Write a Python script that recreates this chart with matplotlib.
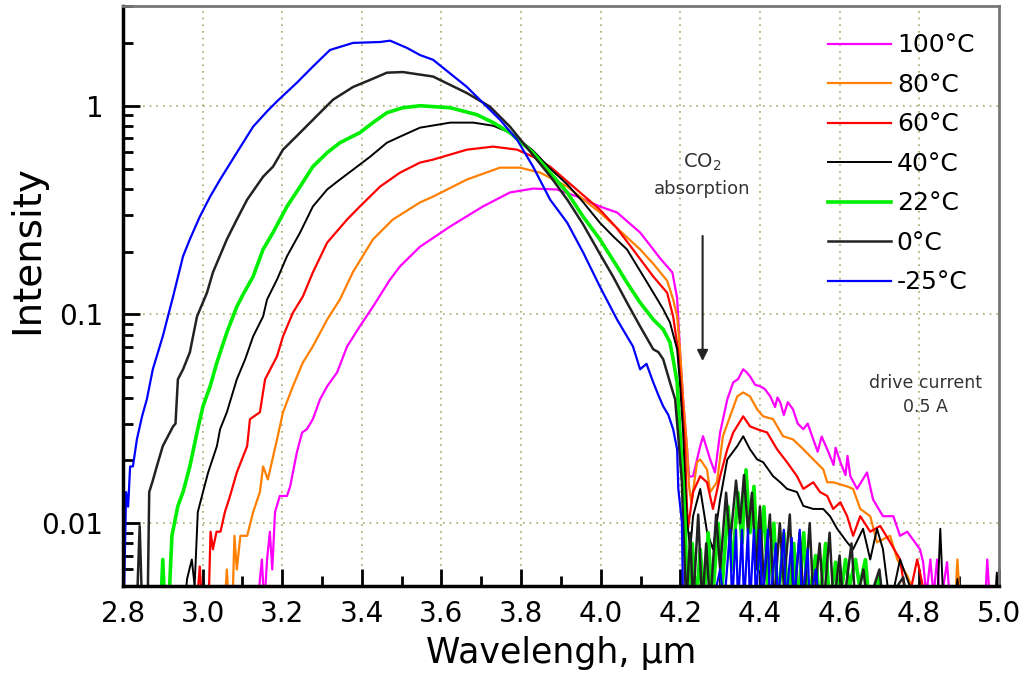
import matplotlib
matplotlib.use("Agg")
import matplotlib.pyplot as plt
from matplotlib.ticker import LogLocator, MultipleLocator, NullFormatter

# emission spectra (wavelength in um, intensity a.u.)
# 0.004 marks points sitting on the noise floor, below the axis limit

wl_100 = [3.140, 3.144, 3.149, 3.155, 3.162, 3.169, 3.175, 3.182, 3.194, 3.212, 3.220, 3.237,
          3.250, 3.262, 3.277, 3.295, 3.313, 3.338, 3.363, 3.395, 3.428, 3.471, 3.496, 3.546,
          3.622, 3.704, 3.772, 3.830, 3.890, 3.941, 3.998, 4.041, 4.099, 4.132, 4.149, 4.180,
          4.192, 4.199, 4.207, 4.217, 4.222, 4.232, 4.250, 4.257, 4.275, 4.287, 4.300, 4.318,
          4.333, 4.345, 4.358, 4.366, 4.375, 4.388, 4.400, 4.412, 4.426, 4.438, 4.444, 4.451,
          4.460, 4.470, 4.483, 4.495, 4.509, 4.520, 4.534, 4.545, 4.555, 4.569, 4.585, 4.590,
          4.602, 4.615, 4.620, 4.627, 4.644, 4.669, 4.684, 4.709, 4.735, 4.752, 4.770, 4.802,
          4.810, 4.818, 4.828, 4.836, 4.845, 4.853, 4.870, 4.878, 4.965, 4.971, 4.978, 5.000]
int_100 = [0.004, 0.0054, 0.0067, 0.004, 0.0067, 0.0091, 0.006, 0.0113, 0.0135, 0.0135, 0.015, 0.0219,
           0.0272, 0.0282, 0.0315, 0.0392, 0.0453, 0.0528, 0.0703, 0.0877, 0.109, 0.147, 0.170, 0.211,
           0.264, 0.329, 0.384, 0.401, 0.397, 0.367, 0.329, 0.308, 0.247, 0.205, 0.186, 0.159,
           0.120, 0.0681, 0.0392, 0.0226, 0.0167, 0.0168, 0.0234, 0.0261, 0.0202, 0.0175, 0.0272, 0.0392,
           0.0473, 0.049, 0.0546, 0.053, 0.0505, 0.046, 0.0453, 0.044, 0.0405, 0.036, 0.040, 0.0379,
           0.033, 0.038, 0.0351, 0.030, 0.0282, 0.030, 0.0252, 0.022, 0.026, 0.0226, 0.019, 0.023,
           0.0196, 0.017, 0.021, 0.0168, 0.0146, 0.0175, 0.0130, 0.0108, 0.0108, 0.0087, 0.0091, 0.0075,
           0.0065, 0.0045, 0.0067, 0.0045, 0.0067, 0.004, 0.0065, 0.004, 0.004, 0.0067, 0.004, 0.004]

wl_80 = [3.055, 3.061, 3.066, 3.075, 3.080, 3.086, 3.095, 3.112, 3.127, 3.144, 3.152, 3.164,
         3.187, 3.202, 3.227, 3.252, 3.277, 3.313, 3.345, 3.378, 3.428, 3.478, 3.546, 3.579,
         3.664, 3.747, 3.797, 3.848, 3.916, 3.998, 4.050, 4.099, 4.132, 4.167, 4.182, 4.192,
         4.199, 4.207, 4.217, 4.222, 4.228, 4.242, 4.250, 4.267, 4.275, 4.292, 4.307, 4.325,
         4.343, 4.358, 4.375, 4.393, 4.408, 4.433, 4.458, 4.483, 4.509, 4.534, 4.559, 4.569,
         4.584, 4.619, 4.634, 4.652, 4.677, 4.694, 4.727, 4.745, 4.770, 4.802, 4.890, 4.896,
         4.903, 5.000]
int_80 = [0.004, 0.006, 0.004, 0.004, 0.0087, 0.006, 0.0087, 0.0087, 0.0113, 0.0141, 0.0187, 0.0162,
          0.0252, 0.034, 0.0453, 0.0589, 0.0703, 0.0946, 0.118, 0.16, 0.229, 0.285, 0.344, 0.367,
          0.443, 0.505, 0.505, 0.478, 0.410, 0.308, 0.25, 0.205, 0.175, 0.145, 0.118, 0.0978,
          0.0681, 0.0392, 0.0226, 0.0150, 0.0125, 0.0196, 0.0202, 0.0181, 0.0141, 0.0157, 0.0261, 0.0325,
          0.0405, 0.0423, 0.0405, 0.0351, 0.0325, 0.0315, 0.0261, 0.0252, 0.0226, 0.0202, 0.0181, 0.0157,
          0.0157, 0.0150, 0.0146, 0.0117, 0.0108, 0.0081, 0.0087, 0.0067, 0.0056, 0.004, 0.004, 0.0067,
          0.004, 0.004]

wl_60 = [2.985, 2.993, 2.999, 3.015, 3.020, 3.026, 3.035, 3.045, 3.056, 3.069, 3.086, 3.112,
         3.119, 3.144, 3.157, 3.187, 3.202, 3.227, 3.252, 3.277, 3.313, 3.363, 3.395, 3.446,
         3.496, 3.546, 3.579, 3.664, 3.730, 3.790, 3.830, 3.873, 3.931, 3.998, 4.040, 4.081,
         4.132, 4.167, 4.182, 4.194, 4.204, 4.212, 4.216, 4.219, 4.232, 4.250, 4.267, 4.282,
         4.300, 4.318, 4.333, 4.358, 4.375, 4.393, 4.418, 4.443, 4.468, 4.493, 4.509, 4.534,
         4.551, 4.569, 4.584, 4.602, 4.619, 4.634, 4.652, 4.677, 4.702, 4.727, 4.752, 4.770,
         4.795, 4.820, 5.000]
int_60 = [0.004, 0.0062, 0.004, 0.004, 0.0091, 0.0075, 0.0091, 0.0091, 0.0113, 0.0135, 0.0175, 0.0234,
          0.0315, 0.034, 0.0489, 0.063, 0.0785, 0.102, 0.122, 0.159, 0.221, 0.285, 0.329, 0.410,
          0.478, 0.534, 0.552, 0.616, 0.637, 0.616, 0.570, 0.511, 0.410, 0.318, 0.26, 0.205,
          0.152, 0.127, 0.0978, 0.0681, 0.0392, 0.0226, 0.013, 0.0094, 0.0141, 0.0168, 0.0157, 0.0117,
          0.0168, 0.0226, 0.0272, 0.0325, 0.0291, 0.0282, 0.0272, 0.0226, 0.0196, 0.0168, 0.0146, 0.0157,
          0.0141, 0.0135, 0.0117, 0.0126, 0.0108, 0.0087, 0.0108, 0.0091, 0.0097, 0.0081, 0.0067, 0.004,
          0.0067, 0.004, 0.004]

wl_40 = [2.955, 2.961, 2.973, 2.980, 2.988, 3.001, 3.014, 3.036, 3.044, 3.061, 3.086, 3.107,
         3.127, 3.152, 3.162, 3.187, 3.212, 3.245, 3.277, 3.313, 3.345, 3.378, 3.421, 3.463,
         3.496, 3.546, 3.622, 3.680, 3.730, 3.772, 3.830, 3.873, 3.916, 3.956, 3.998, 4.033,
         4.066, 4.117, 4.157, 4.174, 4.192, 4.199, 4.207, 4.212, 4.217, 4.225, 4.232, 4.250,
         4.267, 4.282, 4.300, 4.318, 4.343, 4.358, 4.375, 4.393, 4.408, 4.433, 4.451, 4.468,
         4.493, 4.509, 4.534, 4.559, 4.576, 4.594, 4.619, 4.634, 4.659, 4.677, 4.694, 4.709,
         4.727, 4.752, 4.795, 4.845, 4.853, 4.861, 4.890, 4.896, 4.902, 4.990, 4.995, 5.000]
int_40 = [0.004, 0.0054, 0.0067, 0.005, 0.0113, 0.0141, 0.0175, 0.0234, 0.0282, 0.034, 0.0489, 0.061,
          0.0785, 0.0978, 0.118, 0.147, 0.190, 0.247, 0.329, 0.397, 0.443, 0.494, 0.570, 0.665,
          0.711, 0.785, 0.830, 0.830, 0.802, 0.743, 0.61, 0.50, 0.42, 0.345, 0.275, 0.235,
          0.205, 0.142, 0.106, 0.0916, 0.0681, 0.0473, 0.0272, 0.0157, 0.0101, 0.0075, 0.0108, 0.0146,
          0.0091, 0.0075, 0.0130, 0.0202, 0.0234, 0.0261, 0.0226, 0.0202, 0.0196, 0.0168, 0.0157, 0.0146,
          0.0141, 0.0121, 0.0117, 0.0117, 0.0108, 0.0094, 0.0081, 0.0075, 0.0094, 0.0067, 0.0094, 0.0075,
          0.004, 0.0067, 0.004, 0.004, 0.0094, 0.004, 0.004, 0.0054, 0.004, 0.004, 0.0058, 0.004]

wl_22 = [2.895, 2.900, 2.905, 2.915, 2.923, 2.938, 2.951, 2.968, 2.986, 3.001, 3.019, 3.036,
         3.061, 3.086, 3.102, 3.127, 3.152, 3.177, 3.212, 3.245, 3.277, 3.313, 3.345, 3.395,
         3.428, 3.463, 3.503, 3.546, 3.622, 3.689, 3.730, 3.772, 3.830, 3.873, 3.916, 3.956,
         3.998, 4.041, 4.066, 4.099, 4.132, 4.157, 4.174, 4.182, 4.192, 4.199, 4.207, 4.212,
         4.218, 4.230, 4.240, 4.250, 4.260, 4.270, 4.280, 4.295, 4.305, 4.320, 4.330, 4.345,
         4.355, 4.365, 4.375, 4.385, 4.395, 4.410, 4.420, 4.435, 4.445, 4.460, 4.470, 4.485,
         4.495, 4.510, 4.520, 4.540, 4.550, 4.565, 4.575, 4.590, 4.600, 4.615, 4.625, 4.640,
         4.650, 4.665, 4.675, 4.700, 4.710]
int_22 = [0.004, 0.0067, 0.004, 0.004, 0.0087, 0.0121, 0.0141, 0.0187, 0.0272, 0.0363, 0.0453, 0.0589,
          0.082, 0.109, 0.125, 0.152, 0.205, 0.247, 0.329, 0.410, 0.511, 0.596, 0.665, 0.743,
          0.830, 0.926, 0.978, 1.0, 0.978, 0.906, 0.830, 0.743, 0.596, 0.478, 0.384, 0.294,
          0.229, 0.170, 0.142, 0.114, 0.0946, 0.0848, 0.0735, 0.061, 0.0473, 0.0272, 0.0157, 0.0101,
          0.004, 0.008, 0.004, 0.0075, 0.004, 0.009, 0.004, 0.010, 0.005, 0.012, 0.006, 0.014,
          0.008, 0.018, 0.009, 0.015, 0.006, 0.012, 0.005, 0.010, 0.004, 0.009, 0.004, 0.008,
          0.004, 0.009, 0.004, 0.007, 0.004, 0.008, 0.004, 0.0065, 0.004, 0.0067, 0.005, 0.0067,
          0.005, 0.0067, 0.004, 0.0055, 0.004]

wl_0 = [2.835, 2.842, 2.848, 2.862, 2.866, 2.875, 2.885, 2.900, 2.926, 2.932, 2.938, 2.951,
        2.968, 2.986, 3.011, 3.026, 3.061, 3.086, 3.112, 3.152, 3.177, 3.202, 3.245, 3.295,
        3.328, 3.378, 3.421, 3.463, 3.503, 3.546, 3.579, 3.664, 3.722, 3.772, 3.830, 3.873,
        3.916, 3.956, 3.998, 4.031, 4.066, 4.099, 4.132, 4.145, 4.157, 4.174, 4.187, 4.194,
        4.204, 4.207, 4.215, 4.225, 4.232, 4.245, 4.255, 4.265, 4.275, 4.290, 4.300, 4.315,
        4.325, 4.340, 4.350, 4.360, 4.370, 4.380, 4.390, 4.400, 4.410, 4.425, 4.435, 4.450,
        4.460, 4.475, 4.485, 4.500, 4.510, 4.525, 4.535, 4.550, 4.560, 4.575, 4.585, 4.600,
        4.610, 4.630, 4.640, 4.660, 4.670, 4.700, 4.710, 4.760, 4.770, 4.850]
int_0 = [0.004, 0.0097, 0.004, 0.004, 0.0141, 0.0160, 0.0187, 0.0234, 0.0291, 0.0300, 0.0489, 0.0546,
         0.0658, 0.0978, 0.127, 0.159, 0.229, 0.285, 0.355, 0.457, 0.511, 0.616, 0.743, 0.926,
         1.07, 1.23, 1.33, 1.44, 1.45, 1.41, 1.38, 1.15, 0.989, 0.794, 0.58, 0.46,
         0.355, 0.27, 0.195, 0.152, 0.114, 0.0877, 0.0681, 0.066, 0.061, 0.0473, 0.0392, 0.0272,
         0.0157, 0.0101, 0.004, 0.009, 0.004, 0.011, 0.004, 0.008, 0.004, 0.011, 0.006, 0.014,
         0.008, 0.016, 0.010, 0.017, 0.009, 0.014, 0.006, 0.012, 0.005, 0.011, 0.004, 0.010,
         0.005, 0.011, 0.004, 0.009, 0.004, 0.010, 0.004, 0.008, 0.004, 0.009, 0.004, 0.007,
         0.004, 0.008, 0.004, 0.006, 0.004, 0.006, 0.004, 0.0055, 0.004, 0.004]

wl_m25 = [2.802, 2.808, 2.813, 2.818, 2.825, 2.835, 2.848, 2.860, 2.875, 2.900, 2.926, 2.951,
          2.968, 2.993, 3.019, 3.044, 3.086, 3.127, 3.162, 3.187, 3.237, 3.277, 3.320, 3.378,
          3.446, 3.471, 3.514, 3.546, 3.579, 3.664, 3.747, 3.790, 3.830, 3.873, 3.916, 3.956,
          3.998, 4.041, 4.081, 4.099, 4.115, 4.132, 4.145, 4.157, 4.170, 4.182, 4.192, 4.195,
          4.204, 4.207, 4.230, 4.260, 4.280, 4.300, 4.310, 4.325, 4.330, 4.340, 4.345, 4.355,
          4.360, 4.370, 4.375, 4.385, 4.390, 4.400, 4.405, 4.420, 4.425, 4.440, 4.445, 4.460,
          4.465, 4.480, 4.485, 4.500, 4.505, 4.520, 4.525, 4.540, 4.550, 4.600]
int_m25 = [0.004, 0.0141, 0.0120, 0.0187, 0.0187, 0.0252, 0.0325, 0.0392, 0.0546, 0.0785, 0.122, 0.190,
           0.229, 0.294, 0.367, 0.443, 0.596, 0.794, 0.94, 1.05, 1.29, 1.54, 1.85, 2.00,
           2.02, 2.05, 1.89, 1.75, 1.66, 1.23, 0.857, 0.687, 0.511, 0.355, 0.275, 0.198,
           0.136, 0.0946, 0.0703, 0.0546, 0.058, 0.0473, 0.041, 0.0363, 0.033, 0.0282, 0.0226, 0.0146,
           0.0101, 0.004, 0.004, 0.0045, 0.004, 0.006, 0.004, 0.0093, 0.004, 0.0093, 0.004, 0.0093,
           0.004, 0.0093, 0.004, 0.0093, 0.004, 0.0093, 0.004, 0.0093, 0.004, 0.008, 0.004, 0.0093,
           0.004, 0.0085, 0.004, 0.0093, 0.004, 0.0075, 0.004, 0.006, 0.004, 0.004]

labels = ["100°C", "80°C", "60°C", "40°C", "22°C", "0°C", "-25°C"]
colors = ["#ff00ff", "#ff8000", "#ff0000", "#000000", "#00ee00", "#222222", "#0000ff"]
widths = [1.6, 1.6, 1.6, 1.4, 2.6, 1.8, 1.6]
series = [(wl_100, int_100), (wl_80, int_80), (wl_60, int_60), (wl_40, int_40),
          (wl_22, int_22), (wl_0, int_0), (wl_m25, int_m25)]

x_ticks = [2.8, 3.0, 3.2, 3.4, 3.6, 3.8, 4.0, 4.2, 4.4, 4.6, 4.8, 5.0]
y_ticks = [0.01, 0.1, 1]
y_tick_labels = ["0.01", "0.1", "1"]

fig = plt.figure(figsize=(10.28, 6.83), dpi=100)
ax = fig.add_axes([0.1196, 0.142, 0.852, 0.849])

for (wl, inten), lab, col, lw in zip(series, labels, colors, widths):
    ax.plot(wl, inten, color=col, lw=lw, label=lab)

ax.set_yscale("log")
ax.set_xlim(2.8, 5.0)
ax.set_ylim(0.005, 3)

ax.set_xticks(x_ticks)
ax.set_xticklabels([f"{t:.1f}" for t in x_ticks])
ax.xaxis.set_minor_locator(MultipleLocator(0.1))
ax.set_yticks(y_ticks)
ax.set_yticklabels(y_tick_labels)
ax.yaxis.set_minor_locator(LogLocator(base=10, subs=range(2, 10)))
ax.yaxis.set_minor_formatter(NullFormatter())

ax.tick_params(which="both", direction="in", width=2, top=False, right=False)
ax.tick_params(which="major", length=12, labelsize=20)
ax.tick_params(which="minor", length=7)
ax.tick_params(axis="x", pad=10)
ax.tick_params(axis="y", pad=14)

ax.grid(True, which="major", color="#a8a86a", linestyle=(0, (1, 3)), linewidth=1.2)

for side in ["left", "bottom"]:
    ax.spines[side].set_linewidth(2.5)
    ax.spines[side].set_color("black")
for side in ["top", "right"]:
    ax.spines[side].set_linewidth(2)
    ax.spines[side].set_color("#777777")

ax.set_xlabel("Wavelengh, μm", fontsize=25, labelpad=6)
ax.set_ylabel("Intensity", fontsize=28)
ax.yaxis.set_label_coords(-0.088, 0.58)

ax.annotate("", xy=(4.256, 0.058), xytext=(4.256, 0.245),
            arrowprops=dict(arrowstyle="-|>", color="#222222", lw=1.5, mutation_scale=16))
ax.text(4.256, 0.533, "CO$_2$", fontsize=14, color="#333333", ha="center", va="center")
ax.text(4.256, 0.397, "absorption", fontsize=13, color="#333333", ha="center", va="center")
ax.text(4.815, 0.047, "drive current", fontsize=12.5, color="#333333", ha="center", va="center")
ax.text(4.815, 0.036, "0.5 A", fontsize=12.5, color="#333333", ha="center", va="center")

ax.legend(loc="upper left", bbox_to_anchor=(0.805, 0.953), frameon=False, fontsize=18,
          handlelength=2.5, handletextpad=0.25, labelspacing=0.62, borderpad=0, borderaxespad=0)

fig.savefig("out.png", dpi=100)
